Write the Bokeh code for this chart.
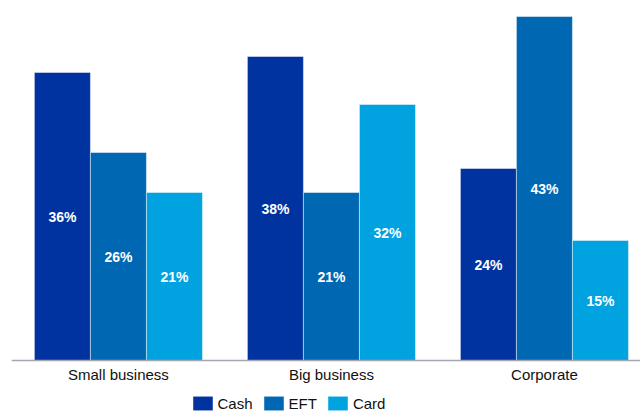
from bokeh.plotting import figure
from bokeh.models import ColumnDataSource, Range1d, Legend, LegendItem, Span
from bokeh.core.properties import value
from bokeh.embed import file_html
from bokeh.resources import INLINE

categories = ["Small business", "Big business", "Corporate"]
series = ["Cash", "EFT", "Card"]
cash = [36, 38, 24]
eft = [26, 21, 43]
card = [21, 32, 15]
colors = ["#00339F", "#0068B3", "#00A3E0"]

FONT = "Liberation Sans"

p = figure(width=640, height=412, output_backend="svg", toolbar_location=None,
           x_range=Range1d(-0.502, 2.451), y_range=Range1d(-6.5, 45),
           min_border_left=11, min_border_right=0, min_border_top=0,
           min_border_bottom=0)
p.outline_line_color = None
p.grid.visible = False
p.xaxis.visible = False
p.yaxis.visible = False
p.background_fill_color = "white"
p.border_fill_color = "white"

xs = list(range(len(categories)))
bw = 0.263
offsets = [-bw, 0.0, bw]
items = []
for vals, name, col, off in zip([cash, eft, card], series, colors, offsets):
    src = ColumnDataSource(dict(
        x=[x + off for x in xs],
        top=vals,
        mid=[v / 2 for v in vals],
        lab=[f"{v}%" for v in vals],
    ))
    r = p.vbar(x="x", top="top", bottom=0, width=bw, source=src, fill_color=col,
               line_color="white", line_alpha=0.45, line_width=1)
    p.text(x="x", y="mid", text="lab", source=src, text_color="white",
           text_font=value(FONT), text_font_style="bold", text_font_size="14px",
           text_align="center", text_baseline="middle")
    items.append(LegendItem(label=name, renderers=[r]))

# baseline (category axis line)
p.add_layout(Span(location=0, dimension="width", line_color="#A3A8B0",
                  line_width=1.5))

# category labels under the baseline
cat_src = ColumnDataSource(dict(x=xs, y=[0] * len(xs), t=categories))
p.text(x="x", y="y", text="t", source=cat_src, y_offset=14,
       text_font=value(FONT), text_font_size="15px", text_color="#111111",
       text_align="center", text_baseline="middle")

legend = Legend(items=items, orientation="horizontal", location=(178.5, 0),
                glyph_width=25, glyph_height=18, label_height=18,
                label_standoff=3, spacing=8, padding=0, margin=0,
                border_line_color=None, background_fill_alpha=0,
                label_text_font=FONT, label_text_font_size="15px",
                label_text_color="#111111")
p.add_layout(legend, "center")

open("out.html", "w").write(file_html(p, INLINE))
